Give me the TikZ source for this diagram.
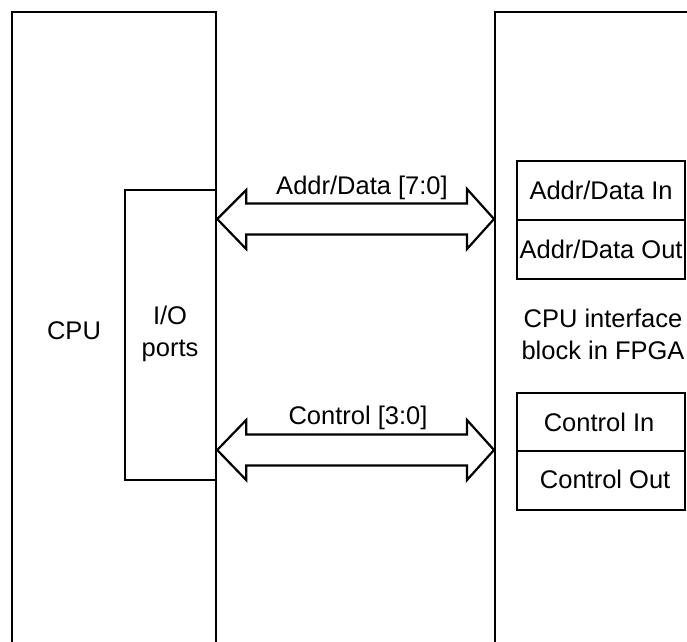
\documentclass[tikz,border=0pt]{standalone}
\usepackage{fontspec}
\setmainfont{Liberation Sans}
\usetikzlibrary{calc}
\tikzset{
  blk/.style={draw=black, line width=2.2pt, rectangle, inner sep=0pt, anchor=north west},
  lbl/.style={font=\fontsize{25.5}{32}\selectfont, inner sep=0pt, align=center},
  bus/.style={draw=black, line width=2.2pt, line join=miter, fill=white},
}
\begin{document}
\begin{tikzpicture}[x=1pt,y=-1pt]
\useasboundingbox (0,0) rectangle (687,641);
\begin{scope}
\clip (0,0) rectangle (687,641);
% big blocks
\node[blk, minimum width=204pt, minimum height=660pt] (cpu) at (11,11) {};
\node[blk, minimum width=230pt, minimum height=660pt] (fpga) at (494,11) {};
\node[blk, fill=white, minimum width=91pt, minimum height=290pt] (io) at (124,189) {};
% inner boxes
\node[blk, minimum width=168pt, minimum height=59pt] (adin) at (516,160) {};
\node[blk, minimum width=168pt, minimum height=59pt] (adout) at (516,219) {};
\node[blk, minimum width=168pt, minimum height=58pt] (cin) at (516,392) {};
\node[blk, minimum width=168pt, minimum height=59pt] (cout) at (516,450) {};
\end{scope}
% texts
\node[lbl] (tcpu) at (74,331) {CPU};
\node[lbl] (tio) at (170,334) {I/O\\ports};
\node[lbl] (tfpga) at (603,334) {CPU interface\\block in FPGA};
\node[lbl] at (adin.center) {Addr/Data In};
\node[lbl] at (adout.center) {Addr/Data Out};
\node[lbl] at ($(cin.center)+(-2,0)$) {Control In};
\node[lbl] at ($(cout.center)+(4,-1)$) {Control Out};
% buses
\coordinate (a1) at (io.east |- 0,219);
\coordinate (a2) at (fpga.west |- 0,219);
\coordinate (c1) at (io.east |- 0,450);
\coordinate (c2) at (fpga.west |- 0,450);
\draw[bus] (a1) -- ++(29,-29) -- ++(0,13.5) -- ($(a2)+(-27,-15.5)$) -- ++(0,-14.5) -- (a2)
  -- ++(-27,30) -- ++(0,-14.5) -- ($(a1)+(29,15.5)$) -- ++(0,14.5) -- cycle;
\draw[bus] (c1) -- ++(29,-30) -- ++(0,14.5) -- ($(c2)+(-27,-15.5)$) -- ++(0,-14.5) -- (c2)
  -- ++(-27,30) -- ++(0,-14.5) -- ($(c1)+(29,15.5)$) -- ++(0,14.5) -- cycle;
\node[lbl] (tad) at (362,188) {Addr/Data [7:0]};
\node[lbl] (tctl) at (358,418) {Control [3:0]};
\end{tikzpicture}
\end{document}
